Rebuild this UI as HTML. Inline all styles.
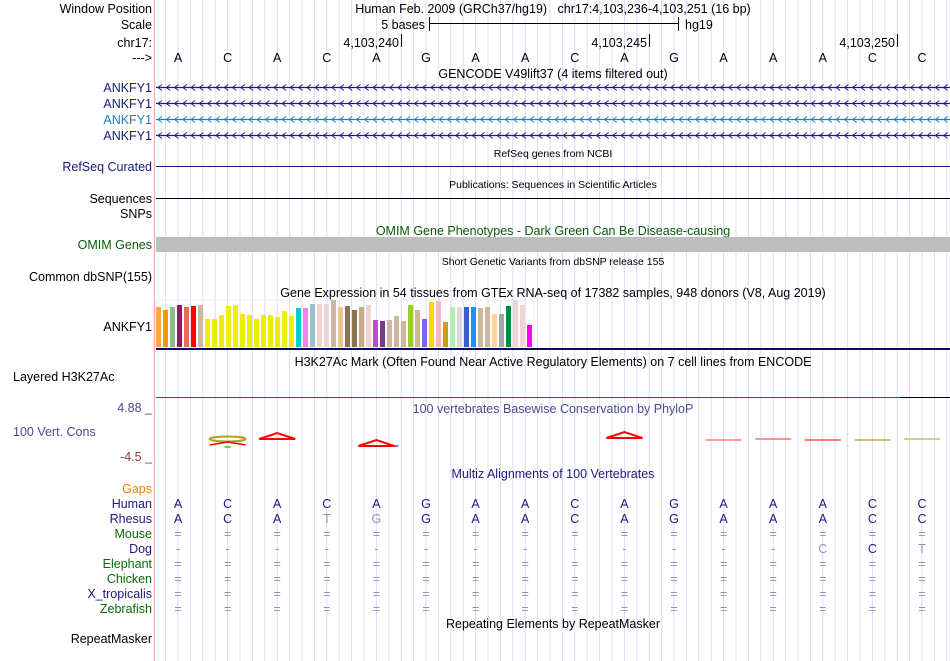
<!DOCTYPE html>
<html><head><meta charset="utf-8"><style>
html,body{margin:0;padding:0;background:#fff;}
svg{display:block;font-family:"Liberation Sans",sans-serif;}
</style></head><body>
<svg id="g" width="950" height="661" viewBox="0 0 950 661">
<g id="grid"></g>
<line x1="154.5" y1="0" x2="154.5" y2="661" stroke="#f4a6a6" stroke-width="1"/>
<g id="labels" font-size="12.5" text-anchor="end">
<text x="152" y="13" fill="#000">Window Position</text>
<text x="152" y="29" fill="#000">Scale</text>
<text x="152" y="47" fill="#000">chr17:</text>
<text x="152" y="62" fill="#000">---&gt;</text>
<text x="152" y="92" fill="#1a1a80">ANKFY1</text>
<text x="152" y="108" fill="#1a1a80">ANKFY1</text>
<text x="152" y="124" fill="#1a80c0">ANKFY1</text>
<text x="152" y="140" fill="#1a1a80">ANKFY1</text>
<text x="152" y="171" fill="#1a1a80">RefSeq Curated</text>
<text x="152" y="203" fill="#000">Sequences</text>
<text x="152" y="218" fill="#000">SNPs</text>
<text x="152" y="249" fill="#0a5a0a">OMIM Genes</text>
<text x="152" y="281" fill="#000">Common dbSNP(155)</text>
<text x="152" y="331" fill="#000">ANKFY1</text>
<text x="13" y="381" fill="#000" text-anchor="start">Layered H3K27Ac</text>
<text x="152" y="412" fill="#4a4a90">4.88 _</text>
<text x="13" y="436" fill="#4a4a90" text-anchor="start">100 Vert. Cons</text>
<text x="152" y="461" fill="#8b3a3a">-4.5 _</text>
<text x="152" y="493" fill="#f08000">Gaps</text>
<text x="152" y="508" fill="#1a1a80">Human</text>
<text x="152" y="523" fill="#1a1a80">Rhesus</text>
<text x="152" y="538" fill="#0a6a0a">Mouse</text>
<text x="152" y="553" fill="#1a1a80">Dog</text>
<text x="152" y="568" fill="#0a6a0a">Elephant</text>
<text x="152" y="583" fill="#0a6a0a">Chicken</text>
<text x="152" y="598" fill="#1a1a80">X_tropicalis</text>
<text x="152" y="613" fill="#0a6a0a">Zebrafish</text>
<text x="152" y="643" fill="#000">RepeatMasker</text>
</g>
<g font-size="12.5" text-anchor="middle" fill="#000">
<text x="553" y="13">Human Feb. 2009 (GRCh37/hg19)&#160;&#160;&#160;chr17:4,103,236-4,103,251 (16 bp)</text>
<text x="553" y="78">GENCODE V49lift37 (4 items filtered out)</text>
<text x="553" y="157" font-size="10.5">RefSeq genes from NCBI</text>
<text x="553" y="188" font-size="10.5">Publications: Sequences in Scientific Articles</text>
<text x="553" y="235" fill="#0a5a0a">OMIM Gene Phenotypes - Dark Green Can Be Disease-causing</text>
<text x="553" y="265" font-size="10.5">Short Genetic Variants from dbSNP release 155</text>
<text x="553" y="297">Gene Expression in 54 tissues from GTEx RNA-seq of 17382 samples, 948 donors (V8, Aug 2019)</text>
<text x="553" y="366">H3K27Ac Mark (Often Found Near Active Regulatory Elements) on 7 cell lines from ENCODE</text>
<text x="553" y="413" fill="#4a4a90">100 vertebrates Basewise Conservation by PhyloP</text>
<text x="553" y="478" fill="#1a1a80">Multiz Alignments of 100 Vertebrates</text>
<text x="553" y="628">Repeating Elements by RepeatMasker</text>
</g>
<g font-size="12.5" fill="#000">
<text x="425" y="29" text-anchor="end">5 bases</text>
<line x1="430" y1="23.5" x2="678" y2="23.5" stroke="#000"/>
<line x1="429.5" y1="17" x2="429.5" y2="31" stroke="#000"/>
<line x1="678.5" y1="17" x2="678.5" y2="31" stroke="#000"/>
<text x="685" y="29">hg19</text>
</g>
<g id="ruler" font-size="12.5"></g>
<g id="bases" font-size="12.5" text-anchor="middle"></g>
<g id="genes"></g>
<line x1="156" y1="166.5" x2="950" y2="166.5" stroke="#1a1a80"/>
<line x1="156" y1="198.5" x2="950" y2="198.5" stroke="#000"/>
<rect x="156" y="237" width="794" height="15" fill="#bebebe"/>
<g id="gtex"></g>
<rect x="156" y="348" width="794" height="2" fill="#0a0a60"/>
<line x1="156" y1="397.5" x2="900" y2="397.5" stroke="#107050"/>
<line x1="900" y1="397.5" x2="950" y2="397.5" stroke="#000"/>
<g id="cons"></g>
<g id="multiz" font-size="12.5" text-anchor="middle"></g>
</svg>
<script>
const NS='http://www.w3.org/2000/svg';
function mk(tag,attrs,parent,txt){const e=document.createElementNS(NS,tag);for(const k in attrs)e.setAttribute(k,attrs[k]);if(txt!==undefined)e.textContent=txt;parent.appendChild(e);return e;}
const X0=153.2,NB=16,BW=49.6,X1=950;
function bx(i){return X0+BW*(i+0.5);}
// grid
const grid=document.getElementById('grid');
for(let x=bx(0)-BW/4*2;x<X1;x+=BW/4){if(x<156)continue;const l=mk('line',{x1:x.toFixed(1),y1:0,x2:x.toFixed(1),y2:661,stroke:'#dcdcf4','stroke-width':1},grid);

}
// ruler
const rulerTicks=[{label:'4,103,240',base:5},{label:'4,103,245',base:10},{label:'4,103,250',base:15}];
const ruler=document.getElementById('ruler');
rulerTicks.forEach(t=>{const x=Math.round(X0+BW*t.base);
const tx=mk('text',{x:x-2,y:47,'text-anchor':'end'},ruler,t.label);


mk('line',{x1:x+0.5,y1:34,x2:x+0.5,y2:47,stroke:'#000'},ruler);});
// bases
const seq=['A','C','A','C','A','G','A','A','C','A','G','A','A','A','C','C'];
const bases=document.getElementById('bases');
seq.forEach((b,i)=>{const t=mk('text',{x:bx(i),y:62},bases,b);

});
// genes
const geneColors=['#1a1a80','#1a1a80','#1a80c0','#1a1a80'];
const geneY=[87,103,119,135];
const genes=document.getElementById('genes');
geneColors.forEach((c,i)=>{const g=mk('g',{},genes);


mk('line',{x1:156,y1:geneY[i]+0.5,x2:X1,y2:geneY[i]+0.5,stroke:c,'stroke-width':1.2},g);
let p='';for(let x=158;x<X1-4;x+=8.27){p+=`M${(x+4).toFixed(1)} ${geneY[i]-2.5} L${x.toFixed(1)} ${geneY[i]+0.5} L${(x+4).toFixed(1)} ${geneY[i]+3.5} `;}
mk('path',{d:p,fill:'none',stroke:c,'stroke-width':0.9},g);});
// GTEx
const gtexTissues=['Adipose Subcutaneous','Adipose Visceral','Adrenal Gland','Artery Aorta','Artery Coronary','Artery Tibial','Bladder','Brain Amygdala','Brain ACC','Brain Caudate','Brain Cerebellar Hem','Brain Cerebellum','Brain Cortex','Brain Frontal Cortex','Brain Hippocampus','Brain Hypothalamus','Brain Nucleus Accumbens','Brain Putamen','Brain Spinal Cord','Brain Substantia Nigra','Breast','Cells EBV Lymphocytes','Cells Fibroblasts','Cervix Ectocervix','Cervix Endocervix','Colon Sigmoid','Colon Transverse','Esophagus GJ','Esophagus Mucosa','Esophagus Muscularis','Fallopian Tube','Heart Atrial App','Heart Left Ventricle','Kidney Cortex','Kidney Medulla','Liver','Lung','Minor Salivary Gland','Muscle Skeletal','Nerve Tibial','Ovary','Pancreas','Pituitary','Prostate','Skin Not Sun','Skin Sun','Small Intestine','Spleen','Stomach','Testis','Thyroid','Uterus','Vagina','Whole Blood'];
const gtexValues=[40,37,40,42,40,41,42,28,28,32,41,42,33,32,28,32,32,30,36,31,39,39,43,43,43,47,40,41,37,40,42,27,26,27,31,26,42,37,28,45,46,25,40,40,40,40,39,40,33,33,41,47,42,22];
const gtexColors=['#FFA54F','#EE9A00','#8FBC8F','#8B1C62','#EE6A50','#FF0000','#CDB79E','#EEEE00','#EEEE00','#EEEE00','#EEEE00','#EEEE00','#EEEE00','#EEEE00','#EEEE00','#EEEE00','#EEEE00','#EEEE00','#EEEE00','#EEEE00','#00CDCD','#EE82EE','#9AC0CD','#EED5D2','#EED5D2','#CDB79E','#EEC591','#8B7355','#8B7355','#CDAA7D','#EED5D2','#B452CD','#7A378B','#CDB79E','#CDB79E','#CDB79E','#9ACD32','#CDB79E','#7A67EE','#FFD700','#FFB6C1','#CD9B1D','#B4EEB4','#D9D9D9','#3A5FCD','#1E90FF','#CDB79E','#CDB79E','#FFD39B','#A6A6A6','#008B45','#EED5D2','#EED5D2','#FF00FF'];
const gtex=document.getElementById('gtex');
const GB=347,GS=1;
function gy(v){return GB-v*GS;}
mk('rect',{x:156,y:300,width:378,height:47,fill:'none',stroke:'#eeeeee'},gtex);
gtexValues.forEach((v,i)=>{const r=mk('rect',{x:156+i*7,y:gy(v),width:5,height:GB-gy(v),fill:gtexColors[i]},gtex);

});
// conservation glyphs
const consBases=[1,2,4,9,11,12,13,14,15];
const consKinds=['ring','caret','caret','caret','flat','flat','flat','flat','flat'];
const consColors=['#b0a020','#ff0000','#ff0000','#ff0000','#ff8080','#ff7070','#ff5050','#b8b040','#c8c050'];
const consY=[441,438,445,437,440,439,440,440,439];
const cons=document.getElementById('cons');
consBases.forEach((b,i)=>{const cx=bx(b);const y=consY[i];const g=mk('g',{},cons);


const k=consKinds[i];
if(k==='caret'){
if(b===4)mk('line',{x1:cx-18,y1:y+1,x2:cx+22,y2:y+1,stroke:'#4040e0','stroke-width':1.5},g);
mk('path',{d:`M${cx-18} ${y+1} L${cx} ${y-5} L${cx+18} ${y+1} Z`,fill:'none',stroke:'#ff0000','stroke-width':2},g);}
else if(k==='ring'){mk('ellipse',{cx:cx,cy:y-2,rx:18,ry:2.5,fill:'none',stroke:consColors[i],'stroke-width':2},g);
mk('path',{d:`M${cx-18} ${y+4} L${cx} ${y+1} L${cx+18} ${y+4}`,fill:'none',stroke:'#ff0000','stroke-width':1.5},g);
mk('line',{x1:cx-3,y1:y+6,x2:cx+3,y2:y+6,stroke:'#20d020','stroke-width':1.5},g);}
else {mk('line',{x1:cx-18,y1:y,x2:cx+18,y2:y,stroke:consColors[i],'stroke-width':1.5},g);}});
// multiz
const rhesus=['A','C','A','T','G','G','A','A','C','A','G','A','A','A','C','C'];
const rhesusGray=[3,4];
const dog=['-','-','-','-','-','-','-','-','-','-','-','-','-','C','C','T'];
const dogDark=[14];
const mz=document.getElementById('multiz');
function row(arr,y,colorFn,name){arr.forEach((c,i)=>{const t=mk('text',{x:bx(i),y:y,fill:colorFn(i,c)},mz,c);

});}
row(seq,508,()=> '#1a1a80','human-base');
row(rhesus,523,(i)=>rhesusGray.includes(i)?'#9090b8':'#1a1a80','rhesus-base');
row(seq.map(()=> '='),538,()=> '#9090c0','mouse-base');
row(dog,553,(i,c)=>dogDark.includes(i)?'#1a1a80':'#9090b8','dog-base');
[568,583,598,613].forEach((y,k)=>row(seq.map(()=> '='),y,()=> '#9090c0',['elephant','chicken','xtropicalis','zebrafish'][k]+'-base'));
</script>
</body></html>
